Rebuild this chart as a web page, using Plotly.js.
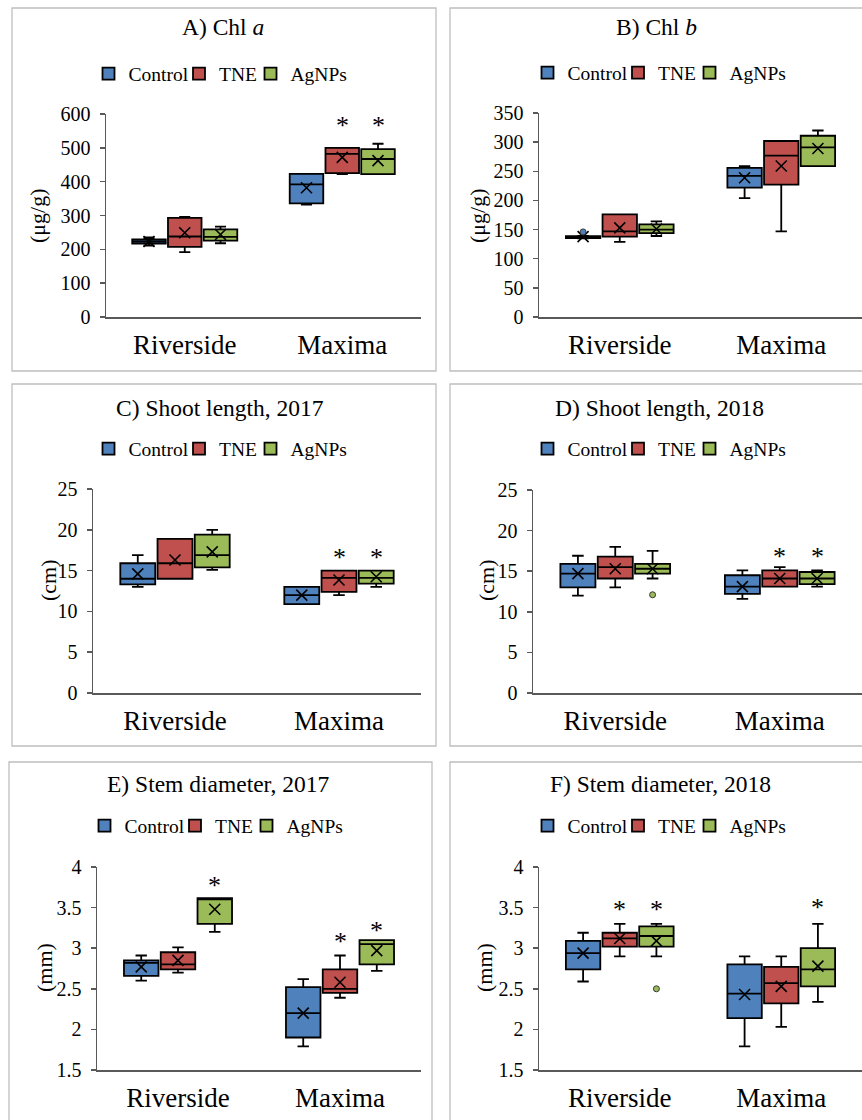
<!DOCTYPE html>
<html><head><meta charset="utf-8">
<script src="https://cdn.plot.ly/plotly-3.0.1.min.js"></script>
<style>html,body{margin:0;padding:0;background:#fff}#chart{width:862px;height:1120px}</style>
</head><body><div id="chart"></div>
<script>
// ---------- DATA ----------
const categories = ['Riverside', 'Maxima'];
const groups = ['Control', 'TNE', 'AgNPs'];
// each array: rows = groups (Control, TNE, AgNPs), columns = categories (Riverside, Maxima)

// A) Chl a (µg/g)
const chlA_lower  = [[211, 332], [192, 422], [218, 422]];
const chlA_q1     = [[217, 336], [207, 425], [226, 422]];
const chlA_median = [[223, 392], [238, 482], [237, 467]];
const chlA_q3     = [[229, 423], [293, 500], [259, 496]];
const chlA_upper  = [[235, 423], [296, 500], [267, 512]];
const chlA_mean   = [[223, 382], [249, 472], [244, 462]];
const chlA_out    = [[null, null], [null, null], [null, null]];
const chlA_sig    = [[null, null], [null, 571], [null, 571]];

// B) Chl b (µg/g)
const chlB_lower  = [[135, 204], [129, 147], [139, 259]];
const chlB_q1     = [[135.5, 222], [138, 227], [144, 259]];
const chlB_median = [[137, 242], [147, 277], [150, 291]];
const chlB_q3     = [[138.5, 256], [176, 302], [159, 311]];
const chlB_upper  = [[139, 259], [176, 302], [164, 320]];
const chlB_mean   = [[138, 239], [153, 259], [151, 289]];
const chlB_out    = [[146, null], [null, null], [null, null]];
const chlB_sig    = [[null, null], [null, null], [null, null]];

// C) Shoot length 2017 (cm)
const sl17_lower  = [[13.0, 10.9], [14.0, 12.0], [15.1, 13.0]];
const sl17_q1     = [[13.3, 10.9], [14.0, 12.4], [15.4, 13.4]];
const sl17_median = [[14.0, 12.0], [15.9, 14.1], [16.9, 14.1]];
const sl17_q3     = [[15.9, 13.0], [18.9, 15.0], [19.4, 15.0]];
const sl17_upper  = [[16.9, 13.0], [18.9, 15.0], [20.0, 15.0]];
const sl17_mean   = [[14.6, 12.0], [16.3, 13.85], [17.3, 14.25]];
const sl17_out    = [[null, null], [null, null], [null, null]];
const sl17_sig    = [[null, null], [null, 16.8], [null, 16.8]];

// D) Shoot length 2018 (cm)
const sl18_lower  = [[12.0, 11.6], [13.0, 13.1], [14.1, 13.1]];
const sl18_q1     = [[13.0, 12.2], [14.1, 13.1], [14.7, 13.4]];
const sl18_median = [[14.7, 13.1], [15.5, 14.1], [15.3, 14.1]];
const sl18_q3     = [[15.9, 14.5], [16.8, 15.1], [15.9, 14.9]];
const sl18_upper  = [[16.9, 15.1], [18.0, 15.5], [17.5, 15.1]];
const sl18_mean   = [[14.7, 13.1], [15.3, 14.1], [15.3, 14.1]];
const sl18_out    = [[null, null], [null, null], [12.1, null]];
const sl18_sig    = [[null, null], [null, 17.0], [null, 17.0]];

// E) Stem diameter 2017 (mm)
const sd17_lower  = [[2.60, 1.79], [2.70, 2.39], [3.20, 2.72]];
const sd17_q1     = [[2.66, 1.90], [2.74, 2.45], [3.30, 2.80]];
const sd17_median = [[2.82, 2.20], [2.80, 2.50], [3.61, 3.05]];
const sd17_q3     = [[2.85, 2.52], [2.95, 2.74], [3.615, 3.10]];
const sd17_upper  = [[2.91, 2.62], [3.01, 2.91], [3.615, 3.10]];
const sd17_mean   = [[2.77, 2.20], [2.85, 2.58], [3.48, 2.97]];
const sd17_out    = [[null, null], [null, null], [null, null]];
const sd17_sig    = [[null, null], [null, 3.11], [3.80, 3.24]];

// F) Stem diameter 2018 (mm)
const sd18_lower  = [[2.59, 1.79], [2.90, 2.03], [2.90, 2.34]];
const sd18_q1     = [[2.74, 2.14], [3.02, 2.32], [3.02, 2.53]];
const sd18_median = [[2.94, 2.44], [3.12, 2.57], [3.15, 2.74]];
const sd18_q3     = [[3.09, 2.80], [3.19, 2.77], [3.27, 3.00]];
const sd18_upper  = [[3.19, 2.90], [3.30, 2.90], [3.30, 3.30]];
const sd18_mean   = [[2.94, 2.43], [3.12, 2.53], [3.09, 2.78]];
const sd18_out    = [[null, null], [null, null], [2.50, null]];
const sd18_sig    = [[null, null], [3.50, null], [3.50, 3.52]];

// tick values
const ticksChlA = [0, 100, 200, 300, 400, 500, 600];
const ticksChlB = [0, 50, 100, 150, 200, 250, 300, 350];
const ticksShoot = [0, 5, 10, 15, 20, 25];
const ticksStem = [1.5, 2, 2.5, 3, 3.5, 4];

// ---------- STYLE / LAYOUT ----------
const W = 862, H = 1120;
const FONT = 'Liberation Serif, Times New Roman, serif';
const colors = ['#4F81BD', '#C0504D', '#9BBB59'];
const legendWidths = [45.5, 26.5, 58];
const OFFSETS = [-0.227, 0, 0.227];
const BOXW = 0.213;
const AXC = '#595959';

const px = p => p / W;
const py = p => 1 - p / H;

const panels = [
  {title: 'A) Chl <i>a</i>', ytitle: '(μg/g)', lower: chlA_lower, q1: chlA_q1, median: chlA_median, q3: chlA_q3, upper: chlA_upper, mean: chlA_mean, out: chlA_out, sig: chlA_sig,
   ticks: ticksChlA, xd: [106, 421], yd: [114, 317], tpos: [223, 27], lpos: [106, 74], ytpos: [38, 216], frame: [12, 8, 436, 371]},
  {title: 'B) Chl <i>b</i>', ytitle: '(μg/g)', lower: chlB_lower, q1: chlB_q1, median: chlB_median, q3: chlB_q3, upper: chlB_upper, mean: chlB_mean, out: chlB_out, sig: chlB_sig,
   ticks: ticksChlB, xd: [539, 862], yd: [113, 317], tpos: [656, 27], lpos: [545, 73], ytpos: [478, 216], frame: [450, 8, 874, 371]},
  {title: 'C) Shoot length, 2017', ytitle: '(cm)', lower: sl17_lower, q1: sl17_q1, median: sl17_median, q3: sl17_q3, upper: sl17_upper, mean: sl17_mean, out: sl17_out, sig: sl17_sig,
   ticks: ticksShoot, xd: [93, 421], yd: [489, 693], tpos: [220, 408], lpos: [106, 449], ytpos: [48, 580], frame: [12, 384, 436, 746]},
  {title: 'D) Shoot length, 2018', ytitle: '(cm)', lower: sl18_lower, q1: sl18_q1, median: sl18_median, q3: sl18_q3, upper: sl18_upper, mean: sl18_mean, out: sl18_out, sig: sl18_sig,
   ticks: ticksShoot, xd: [533, 862], yd: [490, 693], tpos: [659, 408], lpos: [545, 449], ytpos: [486, 580], frame: [450, 384, 874, 746]},
  {title: 'E) Stem diameter, 2017', ytitle: '(mm)', lower: sd17_lower, q1: sd17_q1, median: sd17_median, q3: sd17_q3, upper: sd17_upper, mean: sd17_mean, out: sd17_out, sig: sd17_sig,
   ticks: ticksStem, xd: [97, 421], yd: [867, 1070], tpos: [219, 784], lpos: [102, 826], ytpos: [44, 968], frame: [9, 762, 432, 1124]},
  {title: 'F) Stem diameter, 2018', ytitle: '(mm)', lower: sd18_lower, q1: sd18_q1, median: sd18_median, q3: sd18_q3, upper: sd18_upper, mean: sd18_mean, out: sd18_out, sig: sd18_sig,
   ticks: ticksStem, xd: [539, 862], yd: [867, 1070], tpos: [660, 784], lpos: [545, 826], ytpos: [484, 968], frame: [450, 762, 874, 1124]}
];

const traces = [];
const layout = {
  width: W, height: H, autosize: false,
  margin: {l: 0, r: 0, t: 0, b: 0, pad: 0},
  paper_bgcolor: '#fff', plot_bgcolor: 'rgba(0,0,0,0)',
  font: {family: FONT, color: '#000', size: 20},
  boxmode: 'overlay',
  showlegend: true,
  shapes: [], annotations: []
};

panels.forEach((P, k) => {
  const s = k === 0 ? '' : String(k + 1);
  const xa = 'x' + s, ya = 'y' + s;
  const legName = 'legend' + s;
  groups.forEach((g, gi) => {
    const xs = categories.map((c, ci) => ci + OFFSETS[gi]);
    traces.push({
      type: 'box', name: g, legend: legName, legendgroup: g + k, legendwidth: legendWidths[gi],
      x: xs, q1: P.q1[gi], median: P.median[gi], q3: P.q3[gi],
      lowerfence: P.lower[gi], upperfence: P.upper[gi],
      width: BOXW, whiskerwidth: 0.33, boxpoints: false,
      fillcolor: colors[gi], line: {color: '#000', width: 1.8},
      xaxis: xa, yaxis: ya, hoverinfo: 'skip'
    });
    traces.push({
      type: 'scatter', mode: 'markers', showlegend: false, legend: legName,
      x: xs, y: P.mean[gi],
      marker: {symbol: 'x-thin', size: 11, line: {width: 1.6, color: '#000'}},
      xaxis: xa, yaxis: ya, hoverinfo: 'skip'
    });
    traces.push({
      type: 'scatter', mode: 'markers', showlegend: false, legend: legName,
      x: xs, y: P.out[gi],
      marker: {symbol: 'circle', size: 6, color: colors[gi], line: {width: 1, color: '#3a3a3a'}},
      xaxis: xa, yaxis: ya, hoverinfo: 'skip'
    });
    P.sig[gi].forEach((v, ci) => {
      if (v === null) return;
      layout.annotations.push({
        xref: xa, yref: ya, x: xs[ci], y: v, text: '*', showarrow: false,
        font: {size: 26, family: FONT, color: '#000000'}, yshift: -2
      });
    });
  });

  layout['xaxis' + s] = {
    domain: [px(P.xd[0]), px(P.xd[1])], anchor: ya,
    range: [-0.5, 1.5], tickvals: categories.map((c, i) => i), ticktext: categories,
    showline: true, linecolor: AXC, linewidth: 1.5, ticks: '', showgrid: false, zeroline: false,
    tickfont: {size: 27, family: FONT, color: '#000'}, ticklabelstandoff: 3, fixedrange: true
  };
  layout['yaxis' + s] = {
    domain: [py(P.yd[1]), py(P.yd[0])], anchor: xa,
    range: [P.ticks[0], P.ticks[P.ticks.length - 1]], tickvals: P.ticks,
    showline: true, linecolor: AXC, linewidth: 1.5, ticks: 'outside', ticklen: 5, tickcolor: AXC, tickwidth: 1.5,
    showgrid: false, zeroline: false, tickfont: {size: 20, family: FONT, color: '#000'}, ticklabelstandoff: 5, fixedrange: true
  };
  layout[legName] = {
    orientation: 'h', x: px(P.lpos[0] - 17.5), y: py(P.lpos[1]), xanchor: 'left', yanchor: 'middle',
    font: {size: 19.5, family: FONT, color: '#000'}, bgcolor: 'rgba(0,0,0,0)', itemwidth: 30,
    itemclick: false, itemdoubleclick: false, traceorder: 'normal'
  };
  layout.shapes.push({
    type: 'rect', xref: 'paper', yref: 'paper',
    x0: px(P.frame[0]), x1: px(P.frame[2]), y0: py(P.frame[3]), y1: py(P.frame[1]),
    line: {color: '#BFBFBF', width: 1.3}, fillcolor: 'rgba(0,0,0,0)', layer: 'below'
  });
  layout.annotations.push({
    xref: 'paper', yref: 'paper', x: px(P.tpos[0]), y: py(P.tpos[1]), xanchor: 'center', yanchor: 'middle',
    text: P.title, showarrow: false, font: {size: 23.5, family: FONT, color: '#000'}
  });
  layout.annotations.push({
    xref: 'paper', yref: 'paper', x: px(P.ytpos[0]), y: py(P.ytpos[1]), xanchor: 'center', yanchor: 'middle',
    text: P.ytitle, textangle: -90, showarrow: false, font: {size: 22, family: FONT, color: '#000'}
  });
});

Plotly.newPlot('chart', traces, layout, {staticPlot: true, displayModeBar: false});
</script></body></html>
